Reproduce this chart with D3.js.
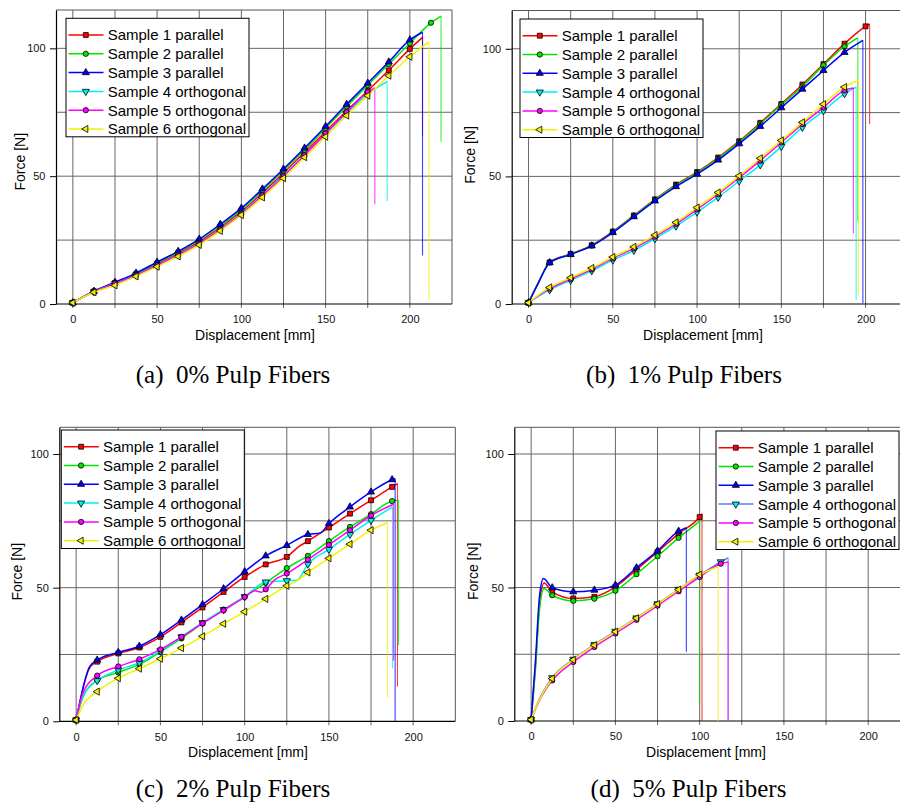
<!DOCTYPE html>
<html><head><meta charset="utf-8">
<script src="https://cdn.jsdelivr.net/npm/d3@7"></script>
<style>body{margin:0;background:#fff}svg{display:block}</style>
</head><body>
<svg id="chart" width="900" height="803"></svg>
<script>
// ---------------- DATA ----------------
const sampleNames = ["Sample 1 parallel","Sample 2 parallel","Sample 3 parallel","Sample 4 orthogonal","Sample 5 orthogonal","Sample 6 orthogonal"];
const captions = ["(a)  0% Pulp Fibers","(b)  1% Pulp Fibers","(c)  2% Pulp Fibers","(d)  5% Pulp Fibers"];
const xTickValues = [0,50,100,150,200];
const yTickValues = [0,50,100];
const xGridValues = [0,25,50,75,100,125,150,175,200];
const yGridValues = [25,50,75,100];
const yMaxA = 115, yMaxB = 115, yMaxC = 110, yMaxD = 110;

// Panel (a) 0% : [displacement mm, force N]
const a1 = [[0,0.5],[12.5,4.9],[25,8.2],[37.5,11.6],[50,15.7],[62.5,19.8],[75,24.4],[87.5,30.0],[100,36.2],[112.5,43.5],[125,51.2],[137.5,59.3],[150,67.5],[162.5,75.6],[175,83.4],[187.5,91.4],[200,99.8]];
const a2 = [[0,0.5],[12.5,5.0],[25,8.4],[37.5,11.9],[50,16.1],[62.5,20.3],[75,25.0],[87.5,30.7],[100,37.0],[112.5,44.4],[125,52.2],[137.5,60.3],[150,68.8],[162.5,77.3],[175,85.6],[187.5,93.8],[200,102.0],[212.5,110.0]];
const a3 = [[0,0.5],[12.5,5.0],[25,8.5],[37.5,12.1],[50,16.4],[62.5,20.6],[75,25.4],[87.5,31.2],[100,37.5],[112.5,45.0],[125,52.8],[137.5,61.0],[150,69.5],[162.5,78.1],[175,86.4],[187.5,94.7],[200,103.3]];
const a4 = [[0,0.5],[12.5,4.8],[25,8.0],[37.5,11.3],[50,15.2],[62.5,19.2],[75,23.7],[87.5,29.3],[100,35.5],[112.5,42.7],[125,50.3],[137.5,58.3],[150,66.4],[162.5,74.6],[175,82.2]];
const a5 = [[0,0.5],[12.5,4.8],[25,8.0],[37.5,11.2],[50,15.1],[62.5,19.1],[75,23.6],[87.5,29.1],[100,35.2],[112.5,42.5],[125,50.0],[137.5,58.2],[150,66.7],[162.5,75.0],[175,82.9]];
const a6 = [[0,0.5],[12.5,4.6],[25,7.3],[37.5,10.8],[50,14.6],[62.5,18.6],[75,23.1],[87.5,28.6],[100,34.8],[112.5,41.7],[125,49.2],[137.5,57.4],[150,65.4],[162.5,73.7],[175,81.5],[187.5,89.3],[200,96.7]];
// failure: [displacement at break, peak force, force after drop]
const aBreak = [[207.5,104.3,65.8],[218.5,112.6,63.5],[207.5,106.3,19.0],[186.5,87.0,40.3],[179.2,84.5,39.0],[211.3,102.5,1.8]];

// Panel (b) 1%
const b1 = [[0,0.5],[6,8.6],[12.5,16.3],[25,19.6],[37.5,23.0],[50,28.4],[62.5,34.7],[75,41.0],[87.5,46.8],[100,51.7],[112.5,57.4],[125,63.8],[137.5,71.0],[150,78.4],[162.5,86.0],[175,94.0],[187.5,102.0],[200,108.8]];
const b2 = [[0,0.5],[6,8.6],[12.5,16.3],[25,19.5],[37.5,22.9],[50,28.2],[62.5,34.5],[75,40.8],[87.5,46.5],[100,51.4],[112.5,57.0],[125,63.4],[137.5,70.5],[150,78.0],[162.5,85.2],[175,93.5],[187.5,100.9]];
const b3 = [[0,0.5],[6,8.5],[12.5,16.2],[25,19.4],[37.5,22.8],[50,28.0],[62.5,34.2],[75,40.4],[87.5,46.0],[100,50.9],[112.5,56.4],[125,62.8],[137.5,69.6],[150,76.9],[162.5,84.2],[175,91.5],[187.5,98.6]];
const b4 = [[0,0.5],[12.5,5.5],[25,9.3],[37.5,13.0],[50,17.2],[62.5,21.0],[75,25.6],[87.5,30.5],[100,36.0],[112.5,41.8],[125,48.2],[137.5,54.5],[150,61.7],[162.5,69.2],[175,75.7],[187.5,82.4]];
const b5 = [[0,0.5],[12.5,6.0],[25,9.8],[37.5,13.6],[50,17.9],[62.5,21.8],[75,26.4],[87.5,31.4],[100,37.1],[112.5,43.0],[125,49.5],[137.5,56.2],[150,63.3],[162.5,70.5],[175,77.0],[187.5,83.7]];
const b6 = [[0,0.5],[12.5,6.5],[25,10.3],[37.5,14.1],[50,18.4],[62.5,22.4],[75,27.0],[87.5,32.0],[100,37.8],[112.5,43.7],[125,50.2],[137.5,57.1],[150,64.1],[162.5,71.2],[175,78.3],[187.5,85.0]];
const bBreak = [[202.4,109.7,70.5],[195.4,104.3,32.3],[198.4,103.3,0.3],[194.4,85.0,1.6],[192.8,84.6,27.7],[195.8,87.6,3.5]];

// Panel (c) 2%
const c1 = [[0,0.5],[8,20.0],[12.5,22.3],[25,25.4],[37.5,27.6],[50,31.6],[62.5,37.0],[75,42.6],[87.5,48.4],[100,54.0],[112.5,58.7],[125,61.5],[132.5,65.5],[137.5,67.4],[150,72.5],[162.5,77.7],[175,82.7],[187.5,87.7]];
const c2 = [[0,0.5],[4,9.0],[12.5,15.4],[25,18.3],[37.5,21.3],[50,26.0],[62.5,31.0],[75,36.6],[87.5,41.8],[100,46.6],[112.5,51.8],[125,57.3],[137.5,61.9],[150,67.4],[162.5,72.7],[175,77.5],[187.5,82.4]];
const c3 = [[0,0.5],[8,20.5],[12.5,22.9],[25,25.8],[37.5,28.1],[50,32.4],[62.5,37.9],[75,43.7],[87.5,49.6],[100,56.0],[112.5,61.9],[125,65.8],[137.5,69.9],[145,70.5],[150,74.0],[162.5,80.2],[175,85.8],[187.5,90.4]];
const c4 = [[0,0.5],[4,9.5],[12.5,15.2],[25,19.2],[37.5,21.9],[50,26.4],[62.5,31.6],[75,36.9],[87.5,41.8],[100,46.6],[112.5,52.1],[125,52.6],[131,52.8],[137.5,58.8],[150,64.3],[162.5,69.9],[175,75.2]];
const c5 = [[0,0.5],[4,10.5],[12.5,17.1],[25,20.5],[37.5,23.2],[50,26.9],[62.5,31.6],[75,36.6],[87.5,41.5],[100,46.5],[106,48.8],[110,48.3],[112.5,49.4],[118,53.0],[125,55.3],[137.5,60.5],[150,66.0],[162.5,71.5],[175,77.0]];
const c6 = [[0,0.5],[4,6.0],[12.5,11.1],[25,16.1],[37.5,19.7],[50,23.4],[62.5,27.4],[75,31.8],[87.5,36.5],[100,41.0],[112.5,45.8],[125,50.7],[131,52.5],[137.5,55.7],[150,61.0],[162.5,66.3],[175,71.5]];
const cBreak = [[190.7,88.9,13.0],[191.3,82.7,28.5],[189.3,90.8,0.0],[187.7,80.2,19.8],[188.3,81.2,22.7],[184.7,74.3,9.0]];

// Panel (d) 5%
const d1 = [[0,0.5],[2.5,20],[5,44],[7.7,51.7],[12.5,48.4],[25,45.9],[37.5,46.5],[50,50.2],[62.5,56.7],[75,63.3],[87.5,70.2],[100,76.4]];
const d2 = [[0,0.5],[2.5,19],[5,42],[7.7,49.6],[12.5,47.1],[25,45.0],[37.5,45.8],[50,48.8],[62.5,55.0],[75,61.7],[87.5,68.6]];
const d3s = [[0,0.5],[2.5,22],[5,47],[7.3,53.4],[12.5,49.9],[25,48.4],[37.5,49.0],[50,50.9],[62.5,57.4],[75,63.7],[87.5,71.1]];
const d4 = [[0,0.5],[4,7.0],[12.5,16.2],[25,23.1],[37.5,28.6],[50,33.6],[62.5,38.6],[75,43.9],[87.5,49.3],[100,54.6],[112.5,59.6]];
const d5 = [[0,0.5],[4,6.5],[12.5,15.2],[25,22.1],[37.5,27.7],[50,32.8],[62.5,37.9],[75,43.2],[87.5,48.6],[100,53.9],[112.5,58.9]];
const d6 = [[0,0.5],[4,6.8],[12.5,15.9],[25,22.9],[37.5,28.4],[50,33.4],[62.5,38.5],[75,43.8],[87.5,49.2],[100,54.8]];
const dBreak = [[101.4,77.6,0.0],[100.0,74.8,6.0],[92.1,72.4,25.9],[116.9,61.1,0.0],[116.9,59.6,0.0],[110.9,57.8,0.0]];

// ---------------- STYLE / LAYOUT ----------------
const baseColors = ["#ff0000","#00e600","#0000ff","#00eeee","#ff00ff","#f2f200"];
const font = "'Liberation Sans', Arial, sans-serif";
const panels = [
  {series:[a1,a2,a3,a4,a5,a6], brk:aBreak, yMax:yMaxA, left:56, top:10, bottom:304, legend:[66,18.3], xTitleX:255, yTitle:[24.5,161.7], caption:[233,383], colors:baseColors},
  {series:[b1,b2,b3,b4,b5,b6], brk:bBreak, yMax:yMaxB, left:511.7, top:10.5, bottom:304, legend:[520,19], xTitleX:703, yTitle:[474.7,155], caption:[684,383], colors:baseColors},
  {series:[c1,c2,c3,c4,c5,c6], brk:cBreak, yMax:yMaxC, left:59.3, top:427.3, bottom:721.3, legend:[61.3,430], xTitleX:248, yTitle:[22,571.7], caption:[233,797], colors:baseColors},
  {series:[d1,d2,d3s,d4,d5,d6], brk:dBreak, yMax:yMaxD, left:514.3, top:427.3, bottom:721, legend:[716,431], xTitleX:706, yTitle:[478,571.3], caption:[688.5,797], colors:["#ff0000","#00e600","#0000ff","#5a78ff","#ff00ff","#f2f200"]}
];
const plotW = 396;
const gridColor = "#666";

const symbols = [
  {type:d3.symbolSquare, size:24, rot:0, fill:"#ff0000"},
  {type:d3.symbolCircle, size:22, rot:0, fill:"#00e600"},
  {type:d3.symbolTriangle, size:22, rot:0, fill:"#0000ff"},
  {type:d3.symbolTriangle, size:22, rot:180, fill:"#00eeee"},
  {type:d3.symbolCircle, size:22, rot:0, fill:"#ff00ff"},
  {type:d3.symbolTriangle, size:22, rot:-90, fill:"#f2f200"}
];

const svg = d3.select("#chart");

panels.forEach((p, pi) => {
  const x = d3.scaleLinear().domain([-10, 225]).range([p.left, p.left + plotW]);
  const y = d3.scaleLinear().domain([0, p.yMax]).range([p.bottom, p.top]);
  const g = svg.append("g");
  const right = p.left + plotW;

  // grid
  g.selectAll(".gx").data(xGridValues).join("line")
    .attr("x1", d => x(d)).attr("x2", d => x(d))
    .attr("y1", p.top).attr("y2", p.bottom + 4)
    .attr("stroke", gridColor).attr("stroke-width", 1);
  g.selectAll(".gy").data(yGridValues).join("line")
    .attr("x1", p.left).attr("x2", right)
    .attr("y1", d => y(d)).attr("y2", d => y(d))
    .attr("stroke", gridColor).attr("stroke-width", 1);
  // top & right border
  g.append("path")
    .attr("d", `M${p.left},${y(p.yMax)}H${right}V${p.bottom}`)
    .attr("fill", "none").attr("stroke", "#555").attr("stroke-width", 1);

  // x axis
  const xa = g.append("g").attr("transform", `translate(0,${p.bottom})`)
    .call(d3.axisBottom(x).tickValues(xTickValues).tickSize(0).tickPadding(11.5));
  xa.select(".domain").remove();
  xa.selectAll("text").attr("font-family", font).attr("font-size", 11).attr("fill", "#111");
  g.append("line").attr("x1", p.left).attr("x2", right).attr("y1", p.bottom).attr("y2", p.bottom)
    .attr("stroke", "#000").attr("stroke-width", 1.2);

  // y axis
  const ya = g.append("g").attr("transform", `translate(${p.left},0)`)
    .call(d3.axisLeft(y).tickValues(yTickValues).tickSize(6).tickSizeOuter(0).tickPadding(4.5));
  ya.select(".domain").attr("stroke", "#000").attr("stroke-width", 1.2);
  ya.selectAll(".tick line").attr("stroke", "#000");
  ya.selectAll("text").attr("font-family", font).attr("font-size", 11).attr("fill", "#111");

  // titles
  g.append("text").attr("x", p.xTitleX).attr("y", p.bottom + 35.5)
    .attr("text-anchor", "middle").attr("font-family", font).attr("font-size", 14)
    .text("Displacement [mm]");
  g.append("text").attr("transform", `translate(${p.yTitle[0]},${p.yTitle[1]}) rotate(-90)`)
    .attr("text-anchor", "middle").attr("font-family", font).attr("font-size", 14)
    .text("Force [N]");

  // series
  const line = d3.line().x(d => x(d[0])).y(d => y(d[1])).curve(d3.curveMonotoneX);
  p.series.forEach((s, i) => {
    const b = p.brk[i];
    const col = p.colors[i];
    const pts = s.concat([[b[0], b[1]]]);
    g.append("path").attr("d", line(pts)).attr("fill", "none")
      .attr("stroke", col).attr("stroke-width", 1.5);
    g.append("line").attr("x1", x(b[0])).attr("x2", x(b[0]))
      .attr("y1", y(b[1])).attr("y2", y(b[2]))
      .attr("stroke", col).attr("stroke-width", 1.1).attr("opacity", 0.75);
    const sym = symbols[i];
    g.selectAll(null).data(s.filter(d => Math.abs(d[0] / 12.5 - Math.round(d[0] / 12.5)) < 1e-6))
      .join("path")
      .attr("transform", d => `translate(${x(d[0])},${y(d[1])}) rotate(${sym.rot})`)
      .attr("d", d3.symbol().type(sym.type).size(sym.size)())
      .attr("fill", sym.fill).attr("stroke", "#000").attr("stroke-width", 0.8);
  });

  // legend
  const lx = p.legend[0], ly = p.legend[1];
  const lg = g.append("g").attr("transform", `translate(${lx},${ly})`);
  lg.append("rect").attr("x", 0).attr("y", 0).attr("width", 183).attr("height", 118.5)
    .attr("fill", "#fff").attr("stroke", "#000").attr("stroke-width", 1);
  sampleNames.forEach((name, i) => {
    const ry = 16.7 + i * 18.8;
    lg.append("line").attr("x1", 2.5).attr("x2", 37.5).attr("y1", ry).attr("y2", ry)
      .attr("stroke", p.colors[i]).attr("stroke-width", 1.5);
    const sym = symbols[i];
    lg.append("path").attr("transform", `translate(19.8,${ry}) rotate(${sym.rot})`)
      .attr("d", d3.symbol().type(sym.type).size(sym.size)())
      .attr("fill", sym.fill).attr("stroke", "#000").attr("stroke-width", 0.8);
    lg.append("text").attr("x", 41.7).attr("y", ry + 5.4)
      .attr("font-family", font).attr("font-size", 15).attr("fill", "#000").text(name);
  });

  // caption
  svg.append("text").attr("x", p.caption[0]).attr("y", p.caption[1])
    .attr("text-anchor", "middle").attr("font-family", "'Liberation Serif', 'DejaVu Serif', serif")
    .attr("font-size", 25).attr("fill", "#000").style("white-space", "pre")
    .text(captions[pi]);
});
</script>
</body></html>
